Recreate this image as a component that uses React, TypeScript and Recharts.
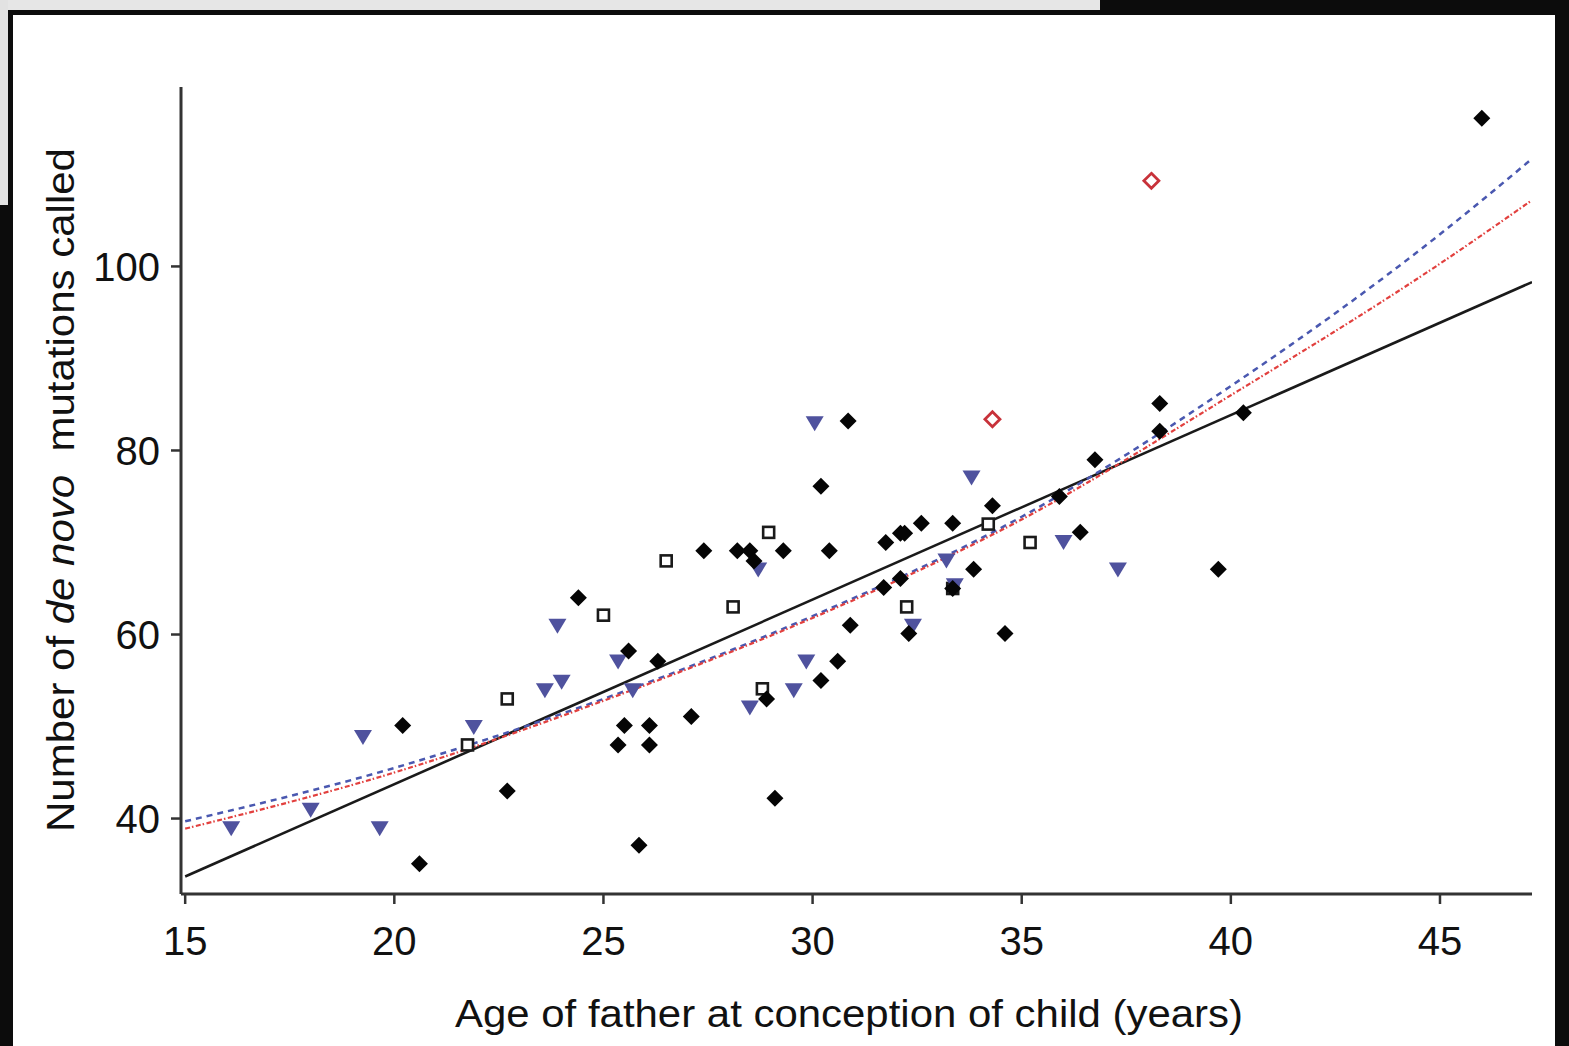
import React from 'react';
import { ScatterChart, Scatter, XAxis, YAxis, Label } from 'recharts';

// x = father's age (years), y = de novo mutations called
const blackDiamonds = [
  { x: 20.6, y: 35.1 }, { x: 20.2, y: 50.1 }, { x: 22.7, y: 43.0 }, { x: 24.4, y: 64.0 },
  { x: 25.6, y: 58.2 }, { x: 25.35, y: 48.0 }, { x: 25.5, y: 50.1 }, { x: 26.1, y: 48.0 },
  { x: 26.1, y: 50.1 }, { x: 26.3, y: 57.1 }, { x: 25.85, y: 37.1 }, { x: 27.1, y: 51.1 },
  { x: 27.4, y: 69.1 }, { x: 28.2, y: 69.1 }, { x: 28.5, y: 69.1 }, { x: 28.6, y: 68.0 },
  { x: 29.3, y: 69.1 }, { x: 28.9, y: 53.0 }, { x: 29.1, y: 42.2 }, { x: 30.2, y: 76.1 },
  { x: 30.85, y: 83.2 }, { x: 30.4, y: 69.1 }, { x: 30.2, y: 55.0 }, { x: 30.6, y: 57.1 },
  { x: 30.9, y: 61.0 }, { x: 31.7, y: 65.1 }, { x: 31.75, y: 70.0 }, { x: 32.1, y: 71.0 },
  { x: 32.2, y: 71.0 }, { x: 32.1, y: 66.1 }, { x: 32.6, y: 72.1 }, { x: 32.3, y: 60.1 },
  { x: 33.35, y: 72.1 }, { x: 33.35, y: 65.0 }, { x: 33.85, y: 67.1 }, { x: 34.3, y: 74.0 },
  { x: 34.6, y: 60.1 }, { x: 35.9, y: 75.0 }, { x: 36.4, y: 71.1 }, { x: 36.75, y: 79.0 },
  { x: 38.3, y: 85.1 }, { x: 38.3, y: 82.1 }, { x: 40.3, y: 84.1 }, { x: 39.7, y: 67.1 },
  { x: 46.0, y: 116.1 },
];

const openSquares = [
  { x: 21.75, y: 48.0 }, { x: 22.7, y: 53.0 }, { x: 25.0, y: 62.1 }, { x: 26.5, y: 68.0 },
  { x: 28.1, y: 63.0 }, { x: 28.95, y: 71.1 }, { x: 28.8, y: 54.1 }, { x: 32.25, y: 63.0 },
  { x: 33.35, y: 65.0 }, { x: 34.2, y: 72.0 }, { x: 35.2, y: 70.0 },
];

const blueTriangles = [
  { x: 16.1, y: 38.9 }, { x: 18.0, y: 40.9 }, { x: 19.25, y: 48.8 }, { x: 19.65, y: 38.9 },
  { x: 21.9, y: 49.9 }, { x: 23.6, y: 53.9 }, { x: 24.0, y: 54.8 }, { x: 23.9, y: 60.9 },
  { x: 25.35, y: 57.0 }, { x: 25.7, y: 53.9 }, { x: 28.5, y: 52.0 }, { x: 28.7, y: 67.0 },
  { x: 29.85, y: 57.0 }, { x: 29.55, y: 53.9 }, { x: 30.05, y: 82.9 }, { x: 32.4, y: 60.9 },
  { x: 33.2, y: 68.0 }, { x: 33.4, y: 65.3 }, { x: 33.8, y: 77.0 }, { x: 36.0, y: 70.0 },
  { x: 37.3, y: 67.0 },
];

const redDiamonds = [
  { x: 38.1, y: 109.3 }, { x: 34.3, y: 83.4 },
];

// fitted curves
const fitX = [15, 20, 25, 30, 35, 40, 45, 47.2];
const blueFitY = [39.7, 45.5, 53.0, 62.0, 72.8, 87.0, 103.5, 111.7];
const redFitY = [38.9, 45.0, 52.8, 61.8, 72.5, 86.0, 100.3, 107.2];
const linearFit = [{ x: 15, y: 33.7 }, { x: 47.2, y: 98.3 }];

const blueFit = fitX.map((x, i) => ({ x, y: blueFitY[i] }));
const redFit = fitX.map((x, i) => ({ x, y: redFitY[i] }));

const xTicks = [15, 20, 25, 30, 35, 40, 45];
const yTicks = [40, 60, 80, 100];

const FONT = '"Liberation Sans", Arial, Helvetica, sans-serif';
const INK = '#111';

const Diamond = (props: any) => {
  const { cx, cy } = props;
  const r = 8.5;
  return <polygon points={`${cx},${cy - r} ${cx + r},${cy} ${cx},${cy + r} ${cx - r},${cy}`} fill="#050505" />;
};

const Square = (props: any) => {
  const { cx, cy } = props;
  return <rect x={cx - 5.5} y={cy - 5.5} width={11} height={11} fill="#fff" stroke="#1a1a1a" strokeWidth={2.6} />;
};

const Triangle = (props: any) => {
  const { cx, cy } = props;
  return <polygon points={`${cx - 9},${cy - 7.5} ${cx + 9},${cy - 7.5} ${cx},${cy + 7.5}`} fill="#4f529e" />;
};

const RedDiamond = (props: any) => {
  const { cx, cy } = props;
  const r = 7.5;
  return (
    <polygon
      points={`${cx},${cy - r} ${cx + r},${cy} ${cx},${cy + r} ${cx - r},${cy}`}
      fill="#fff"
      stroke="#c8323a"
      strokeWidth={2.8}
    />
  );
};

const NoDot = () => <g />;

export default function App() {
  return (
    <div style={{ position: 'absolute', left: 0, top: 0, width: 1569, height: 1046, background: '#0c0c0c', overflow: 'hidden' }}>
      <div style={{ position: 'absolute', left: 0, top: 0, width: 1100, height: 10, background: '#e6e6e6' }} />
      <div style={{ position: 'absolute', left: 0, top: 0, width: 8, height: 205, background: '#e2e2e2' }} />
      <div style={{ position: 'absolute', left: 13, top: 15, width: 1542, height: 1031, background: '#fff' }} />
      <div style={{ position: 'absolute', left: 0, top: 0 }}>
        <ScatterChart width={1569} height={1046} margin={{ top: 87, right: 37, left: 0, bottom: 0 }}>
          <XAxis
            type="number"
            dataKey="x"
            domain={[14.9, 47.2]}
            ticks={xTicks}
            allowDataOverflow
            height={152}
            tickSize={10}
            tickMargin={23}
            axisLine={{ stroke: '#333', strokeWidth: 3 }}
            tickLine={{ stroke: '#333', strokeWidth: 2.5 }}
            tick={{ fontSize: 40, fill: INK, fontFamily: FONT }}
          >
            <Label
              content={() => (
                <text
                  x={849}
                  y={1027}
                  textAnchor="middle"
                  fontSize={38}
                  fill={INK}
                  fontFamily={FONT}
                  textLength={788}
                  lengthAdjust="spacingAndGlyphs"
                >
                  Age of father at conception of child (years)
                </text>
              )}
            />
          </XAxis>
          <YAxis
            type="number"
            dataKey="y"
            domain={[31.8, 119.5]}
            ticks={yTicks}
            allowDataOverflow
            width={181}
            tickSize={10}
            tickMargin={11}
            axisLine={{ stroke: '#333', strokeWidth: 3 }}
            tickLine={{ stroke: '#333', strokeWidth: 2.5 }}
            tick={{ fontSize: 40, fill: INK, fontFamily: FONT }}
          >
            <Label
              content={() => (
                <text
                  x={74}
                  y={490}
                  transform="rotate(-90, 74, 490)"
                  textAnchor="middle"
                  fontSize={38}
                  fill={INK}
                  fontFamily={FONT}
                  textLength={684}
                  lengthAdjust="spacingAndGlyphs"
                >
                  <tspan>Number of </tspan>
                  <tspan fontStyle="italic">de novo</tspan>
                  <tspan>{'\u00a0 mutations called'}</tspan>
                </text>
              )}
            />
          </YAxis>

          <Scatter
            data={linearFit}
            line={{ stroke: '#1a1a1a', strokeWidth: 2.6 }}
            lineJointType="linear"
            shape={NoDot}
            isAnimationActive={false}
          />
          <Scatter
            data={blueFit}
            line={{ stroke: '#4a58b0', strokeWidth: 2.5, strokeDasharray: '6 5' }}
            lineJointType="monotoneX"
            shape={NoDot}
            isAnimationActive={false}
          />
          <Scatter
            data={redFit}
            line={{ stroke: '#e2403e', strokeWidth: 2.2, strokeDasharray: '5 2 1.5 2.5' }}
            lineJointType="monotoneX"
            shape={NoDot}
            isAnimationActive={false}
          />

          <Scatter data={openSquares} shape={Square} isAnimationActive={false} />
          <Scatter data={blueTriangles} shape={Triangle} isAnimationActive={false} />
          <Scatter data={blackDiamonds} shape={Diamond} isAnimationActive={false} />
          <Scatter data={redDiamonds} shape={RedDiamond} isAnimationActive={false} />
        </ScatterChart>
      </div>
    </div>
  );
}
